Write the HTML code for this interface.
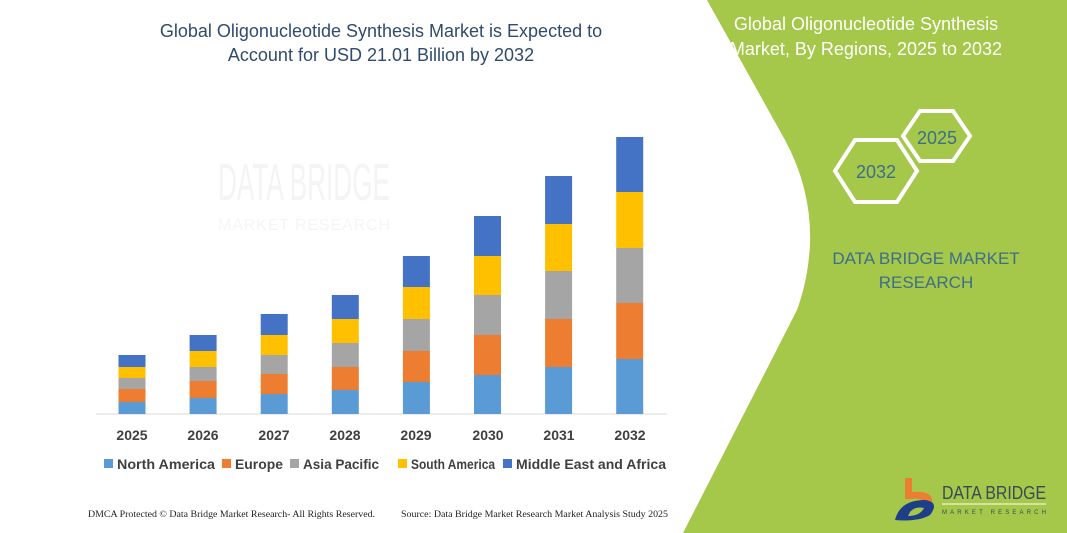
<!DOCTYPE html>
<html><head><meta charset="utf-8"><style>
html,body{margin:0;padding:0;background:#fff;}
svg{display:block;font-family:"Liberation Sans",sans-serif;}
</style></head><body>
<svg width="1067" height="533" viewBox="0 0 1067 533" xmlns="http://www.w3.org/2000/svg">
<rect width="1067" height="533" fill="#fff"/>
<text x="218" y="200" font-size="52" fill="#f4f4f6" textLength="172" lengthAdjust="spacingAndGlyphs">DATA BRIDGE</text>
<text x="218" y="230" font-size="16" fill="#f5f5f7" textLength="172" lengthAdjust="spacing">MARKET RESEARCH</text>
<path d="M707,0 L785,140 Q812,190 810,245 Q808,280 797,310 L683,533 L1067,533 L1067,0 Z" fill="#a5c74a"/>
<text font-size="18" fill="#2f4b6e" text-anchor="middle"><tspan x="381" y="37">Global Oligonucleotide Synthesis Market is Expected to</tspan><tspan x="381" y="61">Account for USD 21.01 Billion by 2032</tspan></text>
<text font-size="18" fill="#fff" text-anchor="middle"><tspan x="866" y="30">Global Oligonucleotide Synthesis</tspan><tspan x="866" y="55">Market, By Regions, 2025 to 2032</tspan></text>
<polygon points="903,136 920,111 953,111 970,136 953,161 920,161" fill="none" stroke="#fff" stroke-width="4"/>
<text x="937" y="144" font-size="18" fill="#3d6e8a" text-anchor="middle">2025</text>
<polygon points="835,171 855,140 897,140 917,171 897,202 855,202" fill="none" stroke="#fff" stroke-width="4"/>
<text x="876" y="178" font-size="18" fill="#3d6e8a" text-anchor="middle">2032</text>
<text font-size="17" fill="#3d6e8a" text-anchor="middle"><tspan x="926" y="264">DATA BRIDGE MARKET</tspan><tspan x="926" y="288">RESEARCH</tspan></text>
<line x1="96" y1="414" x2="667" y2="414" stroke="#d9d9d9" stroke-width="1"/>
<g>
<rect x="118.5" y="355" width="27" height="12" fill="#4472c4"/><rect x="118.5" y="367" width="27" height="11" fill="#ffc000"/><rect x="118.5" y="378" width="27" height="11" fill="#a5a5a5"/><rect x="118.5" y="389" width="27" height="13" fill="#ed7d31"/><rect x="118.5" y="402" width="27" height="12" fill="#5b9bd5"/>
<rect x="189.6" y="335" width="27" height="16" fill="#4472c4"/><rect x="189.6" y="351" width="27" height="16" fill="#ffc000"/><rect x="189.6" y="367" width="27" height="14" fill="#a5a5a5"/><rect x="189.6" y="381" width="27" height="17" fill="#ed7d31"/><rect x="189.6" y="398" width="27" height="16" fill="#5b9bd5"/>
<rect x="260.7" y="314" width="27" height="21" fill="#4472c4"/><rect x="260.7" y="335" width="27" height="20" fill="#ffc000"/><rect x="260.7" y="355" width="27" height="19" fill="#a5a5a5"/><rect x="260.7" y="374" width="27" height="20" fill="#ed7d31"/><rect x="260.7" y="394" width="27" height="20" fill="#5b9bd5"/>
<rect x="331.8" y="295" width="27" height="24" fill="#4472c4"/><rect x="331.8" y="319" width="27" height="24" fill="#ffc000"/><rect x="331.8" y="343" width="27" height="24" fill="#a5a5a5"/><rect x="331.8" y="367" width="27" height="23" fill="#ed7d31"/><rect x="331.8" y="390" width="27" height="24" fill="#5b9bd5"/>
<rect x="402.9" y="256" width="27" height="31" fill="#4472c4"/><rect x="402.9" y="287" width="27" height="32" fill="#ffc000"/><rect x="402.9" y="319" width="27" height="32" fill="#a5a5a5"/><rect x="402.9" y="351" width="27" height="31" fill="#ed7d31"/><rect x="402.9" y="382" width="27" height="32" fill="#5b9bd5"/>
<rect x="474" y="216" width="27" height="40" fill="#4472c4"/><rect x="474" y="256" width="27" height="39" fill="#ffc000"/><rect x="474" y="295" width="27" height="40" fill="#a5a5a5"/><rect x="474" y="335" width="27" height="40" fill="#ed7d31"/><rect x="474" y="375" width="27" height="39" fill="#5b9bd5"/>
<rect x="545.1" y="176" width="27" height="48" fill="#4472c4"/><rect x="545.1" y="224" width="27" height="47" fill="#ffc000"/><rect x="545.1" y="271" width="27" height="48" fill="#a5a5a5"/><rect x="545.1" y="319" width="27" height="48" fill="#ed7d31"/><rect x="545.1" y="367" width="27" height="47" fill="#5b9bd5"/>
<rect x="616.2" y="137" width="27" height="55" fill="#4472c4"/><rect x="616.2" y="192" width="27" height="56" fill="#ffc000"/><rect x="616.2" y="248" width="27" height="55" fill="#a5a5a5"/><rect x="616.2" y="303" width="27" height="56" fill="#ed7d31"/><rect x="616.2" y="359" width="27" height="55" fill="#5b9bd5"/>
</g>
<g font-size="14" font-weight="bold" fill="#404040" text-anchor="middle">
<text x="132" y="440">2025</text><text x="203" y="440">2026</text><text x="274" y="440">2027</text><text x="345" y="440">2028</text><text x="416" y="440">2029</text><text x="488" y="440">2030</text><text x="559" y="440">2031</text><text x="630" y="440">2032</text>
</g>
<g font-size="14" font-weight="bold" fill="#404040">
<rect x="104" y="459" width="9" height="9" fill="#5b9bd5"/><text x="117" y="469" textLength="98" lengthAdjust="spacingAndGlyphs">North America</text>
<rect x="222" y="459" width="9" height="9" fill="#ed7d31"/><text x="235" y="469" textLength="48" lengthAdjust="spacingAndGlyphs">Europe</text>
<rect x="290" y="459" width="9" height="9" fill="#a5a5a5"/><text x="303" y="469" textLength="76" lengthAdjust="spacingAndGlyphs">Asia Pacific</text>
<rect x="398" y="459" width="9" height="9" fill="#ffc000"/><text x="411" y="469" textLength="84" lengthAdjust="spacingAndGlyphs">South America</text>
<rect x="503" y="459" width="9" height="9" fill="#4472c4"/><text x="516" y="469" textLength="150" lengthAdjust="spacingAndGlyphs">Middle East and Africa</text>
</g>
<g font-family="Liberation Serif,serif" font-size="9" fill="#222">
<text x="88" y="517" textLength="287" lengthAdjust="spacingAndGlyphs">DMCA Protected © Data Bridge Market Research-  All Rights Reserved.</text>
<text x="401" y="517" textLength="267" lengthAdjust="spacingAndGlyphs">Source: Data Bridge Market Research  Market Analysis Study 2025</text>
</g>
<path d="M905,478 L912,478 L912,492 Q935,490 932,505 L922,505 Q924,497 912,499 L905,499 Z" fill="#ed7d31"/>
<path d="M895,520 Q900,500 925,500 Q940,502 930,515 Q918,522 895,520 Z M908,516 Q920,516 924,508 Q915,506 910,512 Z" fill="#1f3e8a"/>
<text x="942" y="499" font-size="18" fill="#3a4a5a" textLength="104" lengthAdjust="spacingAndGlyphs">DATA BRIDGE</text>
<line x1="942" y1="504" x2="1046" y2="504" stroke="#fff" stroke-width="1"/>
<text x="942" y="514" font-size="6" fill="#3a4a5a" textLength="104" lengthAdjust="spacing">MARKET RESEARCH</text>
</svg>
</body></html>
